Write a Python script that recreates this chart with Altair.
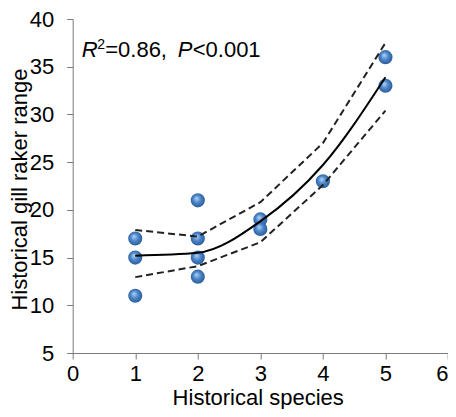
import altair as alt
import pandas as pd

# observed points
pt_x = [1, 1, 1, 2, 2, 2, 2, 3, 3, 4, 5, 5]
pt_y = [17, 15, 11, 21, 17, 15, 13, 19, 18, 23, 36, 33]

# fitted curve and confidence bands
fit_x = [1, 2, 3, 4, 5]
fit_y = [15.2, 15.5, 18.8, 24.7, 33.9]
upper_y = [17.9, 17.2, 20.8, 27.0, 37.5]
lower_y = [12.95, 14.1, 16.6, 22.6, 30.4]

x_ticks = [0, 1, 2, 3, 4, 5, 6]
y_ticks = [5, 10, 15, 20, 25, 30, 35, 40]

FONT = "Liberation Sans"
AX = "#7a7a7a"

pts = pd.DataFrame({"x": pt_x, "y": pt_y})
fit = pd.DataFrame({"x": fit_x, "fit": fit_y, "up": upper_y, "lo": lower_y})
ann = pd.DataFrame({"x": [0.144], "y": [36.07]})

xscale = alt.Scale(domain=[0, 6], nice=False, zero=False)
yscale = alt.Scale(domain=[5, 40], nice=False, zero=False)

xaxis = alt.Axis(values=x_ticks, format="d", title="Historical species", grid=False,
                 domainColor=AX, tickColor=AX, tickSize=6, labelFontSize=22,
                 labelFont=FONT, labelColor="black", labelBaseline="alphabetic",
                 labelAlign={"expr": "datum.value == 6 ? 'right' : 'center'"},
                 labelPadding=21, titleFont=FONT, titleFontSize=22,
                 titleFontWeight="normal", titleColor="black",
                 titleX=185, titleY=51.5, titleAlign="center",
                 titleBaseline="alphabetic", labelFlush=False)
yaxis = alt.Axis(values=y_ticks, format="d", title="Historical gill raker range", grid=False,
                 domainColor=AX, tickColor=AX, tickSize=6, labelFontSize=22,
                 labelFont=FONT, labelColor="black", labelPadding=13,
                 titleFont=FONT, titleFontSize=22, titleFontWeight="normal",
                 titleColor="black", titleAngle=270, titleX=-46, titleY=170,
                 titleAlign="center", titleBaseline="alphabetic", labelFlush=False)

grad = alt.RadialGradient(
    gradient="radial",
    stops=[alt.GradientStop(offset=0, color="#b4d4f7"),
           alt.GradientStop(offset=0.45, color="#4b86c9"),
           alt.GradientStop(offset=1, color="#22508c")],
    x1=0.4, y1=0.35, r1=0, x2=0.5, y2=0.5, r2=0.6)

points = alt.Chart(pts).mark_circle(size=200, opacity=1, fill=grad).encode(
    x=alt.X("x:Q", scale=xscale, axis=xaxis),
    y=alt.Y("y:Q", scale=yscale, axis=yaxis),
)

base = alt.Chart(fit).encode(x=alt.X("x:Q", scale=xscale))
solid = base.mark_line(color="black", strokeWidth=2, interpolate="monotone").encode(
    y=alt.Y("fit:Q", scale=yscale))
up = base.mark_line(color="#222222", strokeWidth=2, strokeDash=[7, 4]).encode(
    y=alt.Y("up:Q", scale=yscale))
lo = base.mark_line(color="#222222", strokeWidth=2, strokeDash=[7, 4]).encode(
    y=alt.Y("lo:Q", scale=yscale))

tb = alt.Chart(ann).encode(x=alt.X("x:Q", scale=xscale), y=alt.Y("y:Q", scale=yscale))
common = dict(align="left", baseline="alphabetic", font=FONT, color="black")
t1 = tb.mark_text(text="R", fontSize=22, fontStyle="italic", dx=0, **common)
t2 = tb.mark_text(text="2", fontSize=14, dx=15.5, dy=-8, **common)
t3 = tb.mark_text(text="=0.86,", fontSize=22, dx=23.5, **common)
t4 = tb.mark_text(text="P", fontSize=22, fontStyle="italic", dx=96, **common)
t5 = tb.mark_text(text="<0.001", fontSize=22, dx=111, **common)

chart = alt.layer(points, solid, up, lo, t1, t2, t3, t4, t5).properties(
    width=375.3, height=334,
    autosize=alt.AutoSizeParams(type="none"),
    padding={"left": 64.7, "top": 11, "right": 0, "bottom": 56},
).configure_view(stroke=None)

chart.save("out.html", embed_options={"renderer": "svg", "actions": False})
